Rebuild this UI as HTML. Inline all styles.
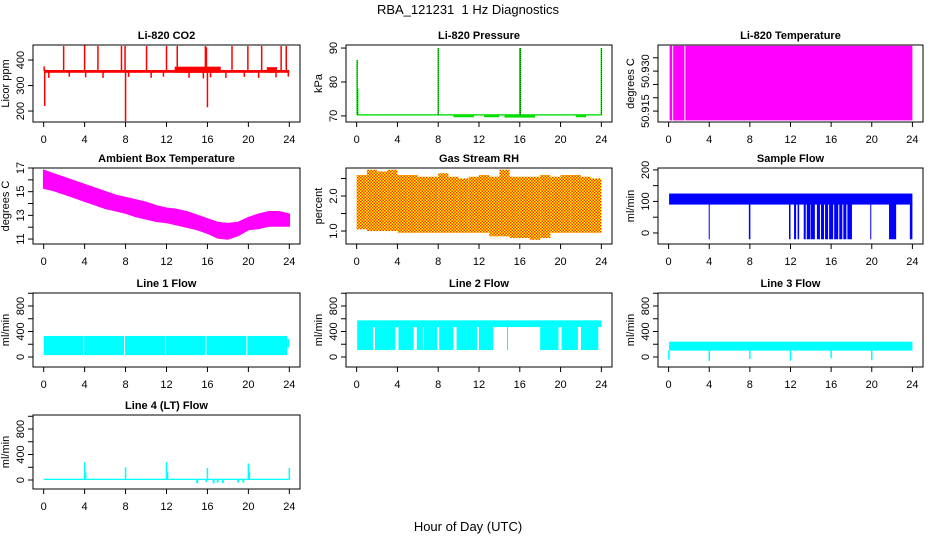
<!DOCTYPE html>
<html><head><meta charset="utf-8"><style>
html,body{margin:0;padding:0;background:#fff}
svg{display:block}
text{font-family:"Liberation Sans",Arial,sans-serif;fill:#000}
</style></head><body>
<svg id="chart" width="936" height="540" viewBox="0 0 936 540" xmlns="http://www.w3.org/2000/svg">
<text x="468" y="14" text-anchor="middle" font-size="13">RBA_121231 &#160;1 Hz Diagnostics</text>
<text x="468" y="531" text-anchor="middle" font-size="13">Hour of Day (UTC)</text>
</svg>
<script>
// ---- data ----
const hourTicks = [0,4,8,12,16,20,24];
const co2Band = [350, 361];
const co2ExtraStart = [12.8, 21.8];
const co2ExtraEnd = [17.3, 22.8];
const co2ExtraHi = [374, 372];
const co2SpikeHours = [0.05,0.1,1.95,4,5.3,7.6,7.95,8.0,10.05,12.0,13.05,15.8,15.9,16.0,18.4,19.95,21.3,23.2,23.7];
const co2SpikeVals = [375,220,455,460,455,455,455,160,455,455,455,455,450,215,455,455,455,455,455];
const co2DipHours = [0.5,2.5,4.1,5.8,8.3,10.5,11.7,14.2,15.6,16.3,17.8,19.6,21.0,22.7,23.9];
const co2DipVals = [330,335,332,330,334,330,335,330,328,332,330,334,330,332,335];
const presBand = [70.1, 70.5];
const presSpikeHours = [0.05,0.1,8.0,16.0,16.05,24.0];
const presSpikeVals = [86.5,78,90,90,90,90];
const presDipStart = [9.5,12.5,14.5,21.5];
const presDipEnd = [11.5,14.0,17.5,22.5];
const presDipVal = [69.6,69.6,69.5,69.6];
const tempStart = [0.1,0.45,1.65];
const tempEnd = [0.35,1.55,24];
const tempRange = [50.9115, 50.9395];
const ambHours = [0,1,2,3,4,5,6,7,8,9,10,11,12,13,14,15,16,17,18,19,20,21,22,23,24];
const ambLo = [15.3,15.1,14.8,14.5,14.2,13.9,13.6,13.4,13.2,12.9,12.7,12.5,12.4,12.2,12.0,11.8,11.5,11.1,11.0,11.3,11.8,11.9,12.1,12.1,12.1];
const ambHi = [16.8,16.5,16.2,15.9,15.6,15.3,15.0,14.7,14.5,14.3,14.1,13.8,13.6,13.5,13.3,13.0,12.7,12.4,12.3,12.4,12.8,13.1,13.3,13.3,13.1];
const rhLo = [1.05,1.0,1.0,1.0,0.95,0.95,0.95,0.95,0.95,0.95,0.95,0.95,0.95,0.85,0.85,0.8,0.8,0.75,0.8,0.95,0.95,0.95,0.95,0.95,1.1];
const rhHi = [2.6,2.75,2.7,2.75,2.6,2.6,2.55,2.55,2.65,2.55,2.5,2.55,2.6,2.55,2.75,2.55,2.55,2.55,2.6,2.55,2.6,2.6,2.55,2.5,2.5];
const sfBand = [90, 125];
const sfDropStart = [3.95,7.9,11.85,12.35,12.7,13.3,13.6,14.0,14.6,15.0,15.4,15.8,16.3,16.8,17.2,17.6,19.85,21.7,23.75];
const sfDropEnd = [4.05,8.05,12.0,12.55,12.85,13.5,13.95,14.4,14.9,15.3,15.7,16.2,16.7,17.1,17.5,18.05,19.95,22.4,24.0];
const sfDropLow = -20;
const l1Start = [0,3.95,7.95,11.95,15.9,19.9];
const l1End = [3.85,7.85,11.85,15.8,19.8,23.8];
const l1Band = [30, 330];
const l2Top = [470, 575];
const l2Start = [0.05,1.8,4.1,5.9,6.6,8.1,9.8,12.0,14.75,18.0,20.1,22.0];
const l2End = [1.6,3.8,5.6,6.5,7.9,9.5,11.8,13.4,14.85,19.8,21.7,23.7];
const l2Low = 110;
const l3Band = [100, 240];
const l3SpikeHours = [0.02,4,8,12,16,20];
const l3SpikeVals = [-40,-60,-30,-60,-20,-50];
const l4Band = [0, 20];
const l4SpikeHours = [4,4.1,8,12,12.1,16,20,20.1,24];
const l4SpikeVals = [280,130,200,280,130,190,260,130,190];
const l4DipHours = [15,15.9,16.6,17,17.5,19,19.5];
const l4DipVals = [-50,-30,-50,-40,-50,-40,-40];

// ---- drawing ----
const svg = document.getElementById('chart');
const NS = 'http://www.w3.org/2000/svg';
function mk(tag, attrs){const e=document.createElementNS(NS,tag);for(const k in attrs)e.setAttribute(k,attrs[k]);svg.appendChild(e);return e;}
const defs=document.createElementNS(NS,'defs');
defs.innerHTML='<pattern id="rhpat" width="3" height="3" patternUnits="userSpaceOnUse"><rect width="3" height="3" fill="#ffff00"/><rect width="1.5" height="1.5" fill="#ff2a00"/><rect x="1.5" y="1.5" width="1.5" height="1.5" fill="#ff2a00"/></pattern>';
svg.appendChild(defs);

function panel(name,L,T,W,H,ymin,ymax,yticks,ylabels,title,ylab){
  const p={L,T,W,H};
  p.x=h=>L+W*(0.04+0.92*h/24);
  p.y=v=>T+H*(ymax-v)/(ymax-ymin);
  const t=mk('text',{x:L+W/2,y:T-6,'text-anchor':'middle','font-size':11,'font-weight':'bold'});
  t.textContent=title;
  
  
  p.draw=()=>{
    const b=mk('rect',{x:L,y:T,width:W,height:H,fill:'none',stroke:'#000','stroke-width':1});
    
    
    const bb=T+H;
    mk('line',{x1:p.x(0),x2:p.x(24),y1:bb,y2:bb,stroke:'#000'});
    hourTicks.forEach(h=>{
      mk('line',{x1:p.x(h),x2:p.x(h),y1:bb,y2:bb+5,stroke:'#000'});
      const tx=mk('text',{x:p.x(h),y:bb+21,'text-anchor':'middle','font-size':11});
      tx.textContent=h;
      
      
    });
    mk('line',{x1:L,x2:L,y1:p.y(yticks[0]),y2:p.y(yticks[yticks.length-1]),stroke:'#000'});
    yticks.forEach((v,i)=>{
      const yy=p.y(v);
      mk('line',{x1:L-5,x2:L,y1:yy,y2:yy,stroke:'#000'});
      if(ylabels[i]!==''){
        const tx=mk('text',{x:L-9,y:yy,'text-anchor':'middle','font-size':11,transform:`rotate(-90 ${L-9} ${yy})`});
        tx.textContent=ylabels[i];
        
        
      }
    });
    const yl=mk('text',{x:L-24,y:T+H/2,'text-anchor':'middle','font-size':11,transform:`rotate(-90 ${L-24} ${T+H/2})`});
    yl.textContent=ylab;
    
    
  };
  return p;
}
function band(p,h0,h1,lo,hi,fill,nm){
  const r=mk('rect',{x:p.x(h0),y:p.y(hi),width:Math.max(1,p.x(h1)-p.x(h0)),height:Math.max(1,p.y(lo)-p.y(hi)),fill});
  
  
  return r;
}
function vline(p,h,v0,v1,col,w,nm,dash){
  const l=mk('line',{x1:p.x(h),x2:p.x(h),y1:p.y(v0),y2:p.y(v1),stroke:col,'stroke-width':w});
  if(dash)l.setAttribute('stroke-dasharray',dash);
  
  
}

const C1=[33,267],C2=[346,266],C3=[658,265];
const R1=[45,77],R2=[168,76],R3=[293,74],R4=[415,74];

// CO2
let p=panel('co2',C1[0],R1[0],C1[1],R1[1],157,459,[200,300,400],['200','300','400'],'Li-820 CO2','Licor ppm');
band(p,0.05,24,co2Band[0],co2Band[1],'#ff0000','co2-band');
co2ExtraStart.forEach((s,i)=>band(p,s,co2ExtraEnd[i],co2Band[0],co2ExtraHi[i],'#ff0000','co2-noise'));
co2SpikeHours.forEach((h,i)=>vline(p,h,356,co2SpikeVals[i],'#ff0000',1.5,'co2-spike'));
co2DipHours.forEach((h,i)=>vline(p,h,352,co2DipVals[i],'#ff0000',1.5,'co2-dip'));
p.draw();

// Pressure
p=panel('pressure',C2[0],R1[0],C2[1],R1[1],68.2,90.9,[70,80,90],['70','80','90'],'Li-820 Pressure','kPa');
band(p,0.05,24,presBand[0],presBand[1],'#00dd00','pressure-band');
presDipStart.forEach((s,i)=>band(p,s,presDipEnd[i],presDipVal[i],presBand[0],'#00dd00','pressure-dip'));
presSpikeHours.forEach((h,i)=>{vline(p,h,70.3,presSpikeVals[i],'#00ee00',1.5,'pressure-spike');vline(p,h,70.3,presSpikeVals[i],'#000',0.6,'pressure-spike-dots','1 1');});
p.draw();

// Li-820 temperature
p=panel('li820-temp',C3[0],R1[0],C3[1],R1[1],50.9109,50.9398,[50.915,50.92,50.925,50.93,50.935],['50.915','','','50.930',''],'Li-820 Temperature','degrees C');
tempStart.forEach((s,i)=>band(p,s,tempEnd[i],tempRange[0],tempRange[1],'#ff00ff','li820-temp-fill'));
p.draw();

// Ambient
p=panel('ambient-temp',C1[0],R2[0],C1[1],R2[1],10.58,17.0,[11,12,13,14,15,16,17],['11','','13','','15','','17'],'Ambient Box Temperature','degrees C');
{let pts=ambHours.map((h,i)=>p.x(h)+','+p.y(ambHi[i]));pts=pts.concat(ambHours.slice().reverse().map((h,j)=>{const i=ambHours.length-1-j;return p.x(h)+','+p.y(ambLo[i]);}));
const pg=mk('polygon',{points:pts.join(' '),fill:'#ff00ff',stroke:'#ff00ff','stroke-width':1.5});

}
p.draw();

// RH
p=panel('gas-rh',C2[0],R2[0],C2[1],R2[1],0.63,2.8,[1.0,1.5,2.0,2.5],['1.0','','2.0',''],'Gas Stream RH','percent');
ambHours.slice(0,24).forEach((h,i)=>band(p,h,h+1,rhLo[i],rhHi[i],'url(#rhpat)','rh-band'));
p.draw();

// Sample flow
p=panel('sample-flow',C3[0],R2[0],C3[1],R2[1],-35,206,[0,50,100,150,200],['0','','100','','200'],'Sample Flow','ml/min');
band(p,0.05,24,sfBand[0],sfBand[1],'#0000ff','sample-flow-band');
sfDropStart.forEach((s,i)=>band(p,s,sfDropEnd[i],sfDropLow,sfBand[0]+5,'#0000ff','sample-flow-drop'));
p.draw();

// Line 1
p=panel('line1-flow',C1[0],R3[0],C1[1],R3[1],-157,1004,[0,200,400,600,800,1000],['0','','400','','800',''],'Line 1 Flow','ml/min');
l1Start.forEach((s,i)=>band(p,s,l1End[i],l1Band[0],l1Band[1],'#00ffff','line1-band'));
band(p,23.8,24,150,280,'#00ffff','line1-tail');
p.draw();

// Line 2
p=panel('line2-flow',C2[0],R3[0],C2[1],R3[1],-157,1004,[0,200,400,600,800,1000],['0','','400','','800',''],'Line 2 Flow','ml/min');
band(p,0.05,24,l2Top[0],l2Top[1],'#00ffff','line2-top-band');
l2Start.forEach((s,i)=>band(p,s,l2End[i],l2Low,l2Top[0],'#00ffff','line2-band'));
p.draw();

// Line 3
p=panel('line3-flow',C3[0],R3[0],C3[1],R3[1],-157,1004,[0,200,400,600,800,1000],['0','','400','','800',''],'Line 3 Flow','ml/min');
band(p,0.05,24,l3Band[0],l3Band[1],'#00ffff','line3-band');
l3SpikeHours.forEach((h,i)=>vline(p,h,l3Band[0],l3SpikeVals[i],'#00ffff',1.5,'line3-spike'));
p.draw();

// Line 4
p=panel('line4-flow',C1[0],R4[0],C1[1],R4[1],-141,1020,[0,200,400,600,800,1000],['0','','400','','800',''],'Line 4 (LT) Flow','ml/min');
band(p,0,24,l4Band[0],l4Band[1],'#00ffff','line4-band');
l4SpikeHours.forEach((h,i)=>vline(p,h,10,l4SpikeVals[i],'#00ffff',1.5,'line4-spike'));
l4DipHours.forEach((h,i)=>vline(p,h,5,l4DipVals[i],'#00ffff',2,'line4-dip'));
p.draw();
</script>
</body></html>
